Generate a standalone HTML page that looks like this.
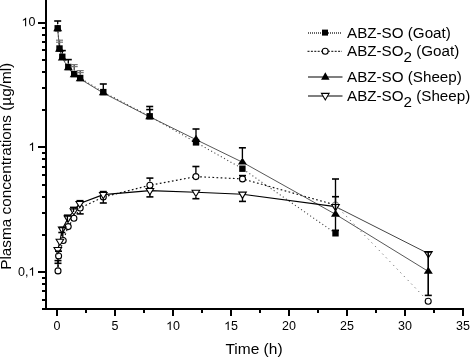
<!DOCTYPE html>
<html><head><meta charset="utf-8"><style>
html,body{margin:0;padding:0;background:#fff;}
body{width:470px;height:357px;position:relative;overflow:hidden;font-family:"Liberation Sans",sans-serif;}
svg{filter:grayscale(1);}
</style></head><body>
<svg width="470" height="357" viewBox="0 0 470 357" style="position:absolute;left:0;top:0">
<g stroke="#000" stroke-width="2" fill="none" shape-rendering="crispEdges">
<line x1="46" y1="0" x2="46" y2="310"/>
<line x1="42" y1="309" x2="464" y2="309"/>
<line x1="42" y1="299.73" x2="46" y2="299.73"/>
<line x1="42" y1="291.37" x2="46" y2="291.37"/>
<line x1="42" y1="284.14" x2="46" y2="284.14"/>
<line x1="42" y1="277.76" x2="46" y2="277.76"/>
<line x1="38" y1="272.05" x2="46" y2="272.05"/>
<line x1="42" y1="234.50" x2="46" y2="234.50"/>
<line x1="42" y1="212.53" x2="46" y2="212.53"/>
<line x1="42" y1="196.94" x2="46" y2="196.94"/>
<line x1="42" y1="184.85" x2="46" y2="184.85"/>
<line x1="42" y1="174.98" x2="46" y2="174.98"/>
<line x1="42" y1="166.62" x2="46" y2="166.62"/>
<line x1="42" y1="159.39" x2="46" y2="159.39"/>
<line x1="42" y1="153.01" x2="46" y2="153.01"/>
<line x1="38" y1="147.30" x2="46" y2="147.30"/>
<line x1="42" y1="109.75" x2="46" y2="109.75"/>
<line x1="42" y1="87.78" x2="46" y2="87.78"/>
<line x1="42" y1="72.19" x2="46" y2="72.19"/>
<line x1="42" y1="60.10" x2="46" y2="60.10"/>
<line x1="42" y1="50.23" x2="46" y2="50.23"/>
<line x1="42" y1="41.87" x2="46" y2="41.87"/>
<line x1="42" y1="34.64" x2="46" y2="34.64"/>
<line x1="42" y1="28.26" x2="46" y2="28.26"/>
<line x1="38" y1="22.55" x2="46" y2="22.55"/>
<line x1="57.00" y1="309" x2="57.00" y2="316"/>
<line x1="86.00" y1="309" x2="86.00" y2="313"/>
<line x1="115.00" y1="309" x2="115.00" y2="316"/>
<line x1="144.00" y1="309" x2="144.00" y2="313"/>
<line x1="173.00" y1="309" x2="173.00" y2="316"/>
<line x1="202.00" y1="309" x2="202.00" y2="313"/>
<line x1="231.00" y1="309" x2="231.00" y2="316"/>
<line x1="260.00" y1="309" x2="260.00" y2="313"/>
<line x1="289.00" y1="309" x2="289.00" y2="316"/>
<line x1="318.00" y1="309" x2="318.00" y2="313"/>
<line x1="347.00" y1="309" x2="347.00" y2="316"/>
<line x1="376.00" y1="309" x2="376.00" y2="313"/>
<line x1="405.00" y1="309" x2="405.00" y2="316"/>
<line x1="434.00" y1="309" x2="434.00" y2="313"/>
<line x1="463.00" y1="309" x2="463.00" y2="316"/>
</g>
<g font-family="Liberation Sans, sans-serif" font-size="12.5" fill="#000">
<text x="53.524" y="330.000">0</text>
<text x="111.524" y="330.000">5</text>
<path transform="translate(166.048,330.000) scale(0.006104,-0.006104)" d="M763,0 L587,0 L587,1100 C545,1060 490,1020 422,980 C354,940 293,912 230,892 L230,1062 C330,1108 420,1162 496,1228 C570,1294 622,1350 652,1409 L763,1409 Z" fill="#000"/>
<text x="173.000" y="330.000">0</text>
<path transform="translate(224.048,330.000) scale(0.006104,-0.006104)" d="M763,0 L587,0 L587,1100 C545,1060 490,1020 422,980 C354,940 293,912 230,892 L230,1062 C330,1108 420,1162 496,1228 C570,1294 622,1350 652,1409 L763,1409 Z" fill="#000"/>
<text x="231.000" y="330.000">5</text>
<text x="282.048" y="330.000">2</text>
<text x="289.000" y="330.000">0</text>
<text x="340.048" y="330.000">2</text>
<text x="347.000" y="330.000">5</text>
<text x="398.048" y="330.000">3</text>
<text x="405.000" y="330.000">0</text>
<text x="456.048" y="330.000">3</text>
<text x="463.000" y="330.000">5</text>
<path transform="translate(21.495,26.350) scale(0.006104,-0.006104)" d="M763,0 L587,0 L587,1100 C545,1060 490,1020 422,980 C354,940 293,912 230,892 L230,1062 C330,1108 420,1162 496,1228 C570,1294 622,1350 652,1409 L763,1409 Z" fill="#000"/>
<text x="28.447" y="26.350">0</text>
<path transform="translate(28.447,151.100) scale(0.006104,-0.006104)" d="M763,0 L587,0 L587,1100 C545,1060 490,1020 422,980 C354,940 293,912 230,892 L230,1062 C330,1108 420,1162 496,1228 C570,1294 622,1350 652,1409 L763,1409 Z" fill="#000"/>
<text x="18.022" y="275.850">0</text>
<text x="24.975" y="275.850">,</text>
<path transform="translate(28.447,275.850) scale(0.006104,-0.006104)" d="M763,0 L587,0 L587,1100 C545,1060 490,1020 422,980 C354,940 293,912 230,892 L230,1062 C330,1108 420,1162 496,1228 C570,1294 622,1350 652,1409 L763,1409 Z" fill="#000"/>
</g>
<text x="254" y="354" text-anchor="middle" font-family="Liberation Sans, sans-serif" font-size="15.5">Time (h)</text>
<text transform="translate(11.3,166.3) rotate(-90)" text-anchor="middle" font-family="Liberation Sans, sans-serif" font-size="15.3">Plasma concentrations (µg/ml)</text>
<polyline points="57.70,28.30 59.50,48.50 62.30,56.80 68.30,67.00 74.20,74.00 80.20,78.00 103.30,92.10 149.70,116.30 196.00,142.40 242.40,168.70 335.50,233.30" fill="none" stroke="#444" stroke-width="1.1" stroke-dasharray="1.1 2.6"/>
<polyline points="58.00,270.90 58.60,256.00 63.20,240.50 68.20,226.60 73.90,218.20 80.20,208.00 103.30,197.00 149.90,185.30 195.90,176.60 242.50,178.90 335.50,205.00" fill="none" stroke="#111" stroke-width="1.15" stroke-dasharray="1.7 2.4"/>
<polyline points="335.50,205.00 428.20,301.30" fill="none" stroke="#666" stroke-width="1" stroke-dasharray="1.2 4"/>
<polyline points="57.70,29.00 59.50,49.50 62.30,58.10 68.30,68.00 74.20,75.00 80.20,79.00 103.30,93.00 149.70,116.80 196.00,139.60 242.40,162.20 335.50,214.30 428.30,271.40" fill="none" stroke="#444" stroke-width="0.9"/>
<polyline points="57.80,249.60 59.90,241.30 62.20,229.20 68.00,218.20 73.90,210.90 79.80,203.50 103.30,194.60 149.90,190.60 195.90,192.30 242.50,194.20 335.50,206.60" fill="none" stroke="#000" stroke-width="1.15"/>
<polyline points="335.50,206.60 428.40,253.60" fill="none" stroke="#444" stroke-width="1"/>
<circle cx="58.00" cy="270.90" r="3.0" fill="#fff" stroke="#000" stroke-width="1.1"/>
<circle cx="58.60" cy="256.00" r="3.0" fill="#fff" stroke="#000" stroke-width="1.1"/>
<circle cx="63.20" cy="240.50" r="3.0" fill="#fff" stroke="#000" stroke-width="1.1"/>
<circle cx="68.20" cy="226.60" r="3.0" fill="#fff" stroke="#000" stroke-width="1.1"/>
<circle cx="73.90" cy="218.20" r="3.0" fill="#fff" stroke="#000" stroke-width="1.1"/>
<circle cx="80.20" cy="208.00" r="3.0" fill="#fff" stroke="#000" stroke-width="1.1"/>
<circle cx="103.30" cy="197.00" r="3.0" fill="#fff" stroke="#000" stroke-width="1.1"/>
<circle cx="149.90" cy="185.30" r="3.0" fill="#fff" stroke="#000" stroke-width="1.1"/>
<circle cx="195.90" cy="176.60" r="3.0" fill="#fff" stroke="#000" stroke-width="1.1"/>
<circle cx="242.50" cy="178.90" r="3.0" fill="#fff" stroke="#000" stroke-width="1.1"/>
<circle cx="335.50" cy="205.00" r="3.0" fill="#fff" stroke="#888" stroke-width="1.1"/>
<circle cx="428.20" cy="301.30" r="3.0" fill="#fff" stroke="#000" stroke-width="1.1"/>
<path d="M54.00,247.53 L61.60,247.53 L57.80,253.73Z" fill="#fff" stroke="#000" stroke-width="1.1"/>
<path d="M56.10,239.23 L63.70,239.23 L59.90,245.43Z" fill="#fff" stroke="#000" stroke-width="1.1"/>
<path d="M58.40,227.13 L66.00,227.13 L62.20,233.33Z" fill="#fff" stroke="#000" stroke-width="1.1"/>
<path d="M64.20,216.13 L71.80,216.13 L68.00,222.33Z" fill="#fff" stroke="#000" stroke-width="1.1"/>
<path d="M70.10,208.83 L77.70,208.83 L73.90,215.03Z" fill="#fff" stroke="#000" stroke-width="1.1"/>
<path d="M76.00,201.43 L83.60,201.43 L79.80,207.63Z" fill="#fff" stroke="#000" stroke-width="1.1"/>
<path d="M99.50,192.53 L107.10,192.53 L103.30,198.73Z" fill="#fff" stroke="#000" stroke-width="1.1"/>
<path d="M146.10,188.53 L153.70,188.53 L149.90,194.73Z" fill="#fff" stroke="#000" stroke-width="1.1"/>
<path d="M192.10,190.23 L199.70,190.23 L195.90,196.43Z" fill="#fff" stroke="#000" stroke-width="1.1"/>
<path d="M238.70,192.13 L246.30,192.13 L242.50,198.33Z" fill="#fff" stroke="#000" stroke-width="1.1"/>
<path d="M331.70,204.53 L339.30,204.53 L335.50,210.73Z" fill="#fff" stroke="#000" stroke-width="1.1"/>
<path d="M424.60,251.53 L432.20,251.53 L428.40,257.73Z" fill="#fff" stroke="#000" stroke-width="1.1"/>
<rect x="54.50" y="25.10" width="6.4" height="6.4" fill="#000"/>
<rect x="56.30" y="45.30" width="6.4" height="6.4" fill="#000"/>
<rect x="59.10" y="53.60" width="6.4" height="6.4" fill="#000"/>
<rect x="65.10" y="63.80" width="6.4" height="6.4" fill="#000"/>
<rect x="71.00" y="70.80" width="6.4" height="6.4" fill="#000"/>
<rect x="77.00" y="74.80" width="6.4" height="6.4" fill="#000"/>
<rect x="100.10" y="88.90" width="6.4" height="6.4" fill="#000"/>
<rect x="146.50" y="113.10" width="6.4" height="6.4" fill="#000"/>
<rect x="192.80" y="139.20" width="6.4" height="6.4" fill="#000"/>
<rect x="239.20" y="165.50" width="6.4" height="6.4" fill="#000"/>
<rect x="332.30" y="230.10" width="6.4" height="6.4" fill="#000"/>
<path d="M57.70,24.27 L62.20,31.37 L53.20,31.37Z" fill="#000"/>
<path d="M59.50,44.77 L64.00,51.87 L55.00,51.87Z" fill="#000"/>
<path d="M62.30,53.37 L66.80,60.47 L57.80,60.47Z" fill="#000"/>
<path d="M68.30,63.27 L72.80,70.37 L63.80,70.37Z" fill="#000"/>
<path d="M74.20,70.27 L78.70,77.37 L69.70,77.37Z" fill="#000"/>
<path d="M80.20,74.27 L84.70,81.37 L75.70,81.37Z" fill="#000"/>
<path d="M103.30,88.27 L107.80,95.37 L98.80,95.37Z" fill="#000"/>
<path d="M149.70,112.07 L154.20,119.17 L145.20,119.17Z" fill="#000"/>
<path d="M196.00,134.87 L200.50,141.97 L191.50,141.97Z" fill="#000"/>
<path d="M242.40,157.47 L246.90,164.57 L237.90,164.57Z" fill="#000"/>
<path d="M335.50,209.57 L340.00,216.67 L331.00,216.67Z" fill="#000"/>
<path d="M428.30,266.67 L432.80,273.77 L423.80,273.77Z" fill="#000"/>
<g stroke="#000" stroke-width="1.35" fill="none">
<line x1="59.50" y1="45.00" x2="59.50" y2="40.20" stroke="#444"/>
<line x1="56.00" y1="40.20" x2="63.00" y2="40.20" stroke="#777" stroke-width="1.2"/>
<line x1="56.00" y1="42.20" x2="63.00" y2="42.20" stroke="#777" stroke-width="1.2"/>
<line x1="74.20" y1="70.00" x2="74.20" y2="64.60" stroke="#444"/>
<line x1="70.70" y1="64.60" x2="77.70" y2="64.60" stroke="#777" stroke-width="1.2"/>
<line x1="70.70" y1="66.60" x2="77.70" y2="66.60" stroke="#777" stroke-width="1.2"/>
<line x1="80.20" y1="74.50" x2="80.20" y2="70.60" stroke="#444"/>
<line x1="76.70" y1="70.60" x2="83.70" y2="70.60" stroke="#777" stroke-width="1.2"/>
<line x1="76.70" y1="72.60" x2="83.70" y2="72.60" stroke="#777" stroke-width="1.2"/>
<line x1="57.70" y1="24.00" x2="57.70" y2="21.00"/>
<line x1="54.20" y1="21.00" x2="61.20" y2="21.00" stroke-width="1.6"/>
<line x1="62.30" y1="53.50" x2="62.30" y2="50.60"/>
<line x1="58.80" y1="50.60" x2="65.80" y2="50.60" stroke-width="1.6"/>
<line x1="68.30" y1="63.50" x2="68.30" y2="59.60"/>
<line x1="64.80" y1="59.60" x2="71.80" y2="59.60" stroke-width="1.6"/>
<line x1="103.30" y1="89.00" x2="103.30" y2="84.00"/>
<line x1="99.80" y1="84.00" x2="106.80" y2="84.00" stroke-width="1.6"/>
<line x1="149.70" y1="113.00" x2="149.70" y2="106.50"/>
<line x1="146.20" y1="106.50" x2="153.20" y2="106.50" stroke-width="1.6"/>
<line x1="149.70" y1="113.00" x2="149.70" y2="109.60"/>
<line x1="146.20" y1="109.60" x2="153.20" y2="109.60" stroke-width="1.6"/>
<line x1="196.00" y1="136.00" x2="196.00" y2="129.00"/>
<line x1="192.50" y1="129.00" x2="199.50" y2="129.00" stroke-width="1.6"/>
<line x1="242.40" y1="158.00" x2="242.40" y2="147.80"/>
<line x1="238.90" y1="147.80" x2="245.90" y2="147.80" stroke-width="1.6"/>
<line x1="335.50" y1="210.70" x2="335.50" y2="179.00"/>
<line x1="332.00" y1="179.00" x2="339.00" y2="179.00" stroke-width="1.6"/>
<line x1="335.50" y1="210.70" x2="335.50" y2="196.70"/>
<line x1="332.00" y1="196.70" x2="339.00" y2="196.70" stroke-width="1.6"/>
<line x1="335.50" y1="216.50" x2="335.50" y2="230.30"/>
<line x1="332.00" y1="230.30" x2="339.00" y2="230.30" stroke-width="1.6"/>
<line x1="428.30" y1="295.40" x2="428.30" y2="252.00"/>
<line x1="424.80" y1="252.00" x2="431.80" y2="252.00" stroke-width="1.6"/>
<line x1="428.30" y1="252.00" x2="428.30" y2="295.40"/>
<line x1="424.80" y1="295.40" x2="431.80" y2="295.40" stroke-width="1.6"/>
<line x1="103.30" y1="193.00" x2="103.30" y2="191.60"/>
<line x1="99.80" y1="191.60" x2="106.80" y2="191.60" stroke-width="1.6"/>
<line x1="103.30" y1="199.00" x2="103.30" y2="203.00"/>
<line x1="99.80" y1="203.00" x2="106.80" y2="203.00" stroke-width="1.6"/>
<line x1="149.90" y1="181.60" x2="149.90" y2="178.10"/>
<line x1="146.40" y1="178.10" x2="153.40" y2="178.10" stroke-width="1.6"/>
<line x1="149.90" y1="194.00" x2="149.90" y2="196.90"/>
<line x1="146.40" y1="196.90" x2="153.40" y2="196.90" stroke-width="1.6"/>
<line x1="195.90" y1="173.00" x2="195.90" y2="166.50"/>
<line x1="192.40" y1="166.50" x2="199.40" y2="166.50" stroke-width="1.6"/>
<line x1="195.90" y1="197.00" x2="195.90" y2="198.70"/>
<line x1="192.40" y1="198.70" x2="199.40" y2="198.70" stroke-width="1.6"/>
<line x1="242.50" y1="175.40" x2="242.50" y2="175.60"/>
<line x1="239.00" y1="175.60" x2="246.00" y2="175.60" stroke-width="1.6"/>
<line x1="242.50" y1="197.70" x2="242.50" y2="201.40"/>
<line x1="239.00" y1="201.40" x2="246.00" y2="201.40" stroke-width="1.6"/>
<line x1="58.00" y1="267.30" x2="58.00" y2="260.60"/>
<line x1="54.50" y1="260.60" x2="61.50" y2="260.60" stroke-width="1.6"/>
<line x1="58.00" y1="258.00" x2="58.00" y2="263.30"/>
<line x1="54.50" y1="263.30" x2="61.50" y2="263.30" stroke-width="1.6"/>
<line x1="58.50" y1="251.00" x2="58.50" y2="251.20"/>
<line x1="55.00" y1="251.20" x2="62.00" y2="251.20" stroke-width="1.6"/>
<line x1="61.80" y1="236.00" x2="61.80" y2="232.50"/>
<line x1="58.30" y1="232.50" x2="65.30" y2="232.50" stroke-width="1.6"/>
<line x1="62.80" y1="237.00" x2="62.80" y2="227.50"/>
<line x1="59.30" y1="227.50" x2="66.30" y2="227.50" stroke-width="1.6"/>
<line x1="67.40" y1="222.00" x2="67.40" y2="215.20"/>
<line x1="63.90" y1="215.20" x2="70.90" y2="215.20" stroke-width="1.6"/>
<line x1="73.50" y1="212.00" x2="73.50" y2="207.40"/>
<line x1="70.00" y1="207.40" x2="77.00" y2="207.40" stroke-width="1.6"/>
<line x1="80.20" y1="211.50" x2="80.20" y2="213.90"/>
<line x1="76.70" y1="213.90" x2="83.70" y2="213.90" stroke-width="1.6"/>
<line x1="80.00" y1="202.00" x2="80.00" y2="200.70"/>
<line x1="76.50" y1="200.70" x2="83.50" y2="200.70" stroke-width="1.6"/>
</g>
<line x1="308" y1="33" x2="342" y2="33" stroke="#666" stroke-width="2" stroke-dasharray="1 1" shape-rendering="crispEdges"/>
<rect x="322.00" y="29.60" width="6" height="6" fill="#000"/>
<text x="347" y="37.70" font-family="Liberation Sans, sans-serif" font-size="15.2">ABZ-SO (Goat)</text>
<line x1="307.5" y1="51.3" x2="342" y2="51.3" stroke="#000" stroke-width="1" stroke-dasharray="2 1.4"/>
<circle cx="325.20" cy="51.30" r="3" fill="#fff" stroke="#000" stroke-width="1.1"/>
<text x="347" y="56.40" font-family="Liberation Sans, sans-serif" font-size="15.2">ABZ-SO<tspan dy="6" >2</tspan><tspan dy="-6"> (Goat)</tspan></text>
<line x1="308" y1="77" x2="342.5" y2="77" stroke="#555" stroke-width="1.6"/>
<path d="M325.30,72.37 L329.55,79.77 L321.05,79.77Z" fill="#000"/>
<text x="347" y="81.70" font-family="Liberation Sans, sans-serif" font-size="15.2">ABZ-SO (Sheep)</text>
<line x1="308" y1="96" x2="342.5" y2="96" stroke="#555" stroke-width="1.6"/>
<path d="M321.50,93.40 L329.10,93.40 L325.30,100.00Z" fill="#fff" stroke="#000" stroke-width="1.1"/>
<text x="347" y="100.70" font-family="Liberation Sans, sans-serif" font-size="15.2">ABZ-SO<tspan dy="6" >2</tspan><tspan dy="-6"> (Sheep)</tspan></text>
</svg>
</body></html>
